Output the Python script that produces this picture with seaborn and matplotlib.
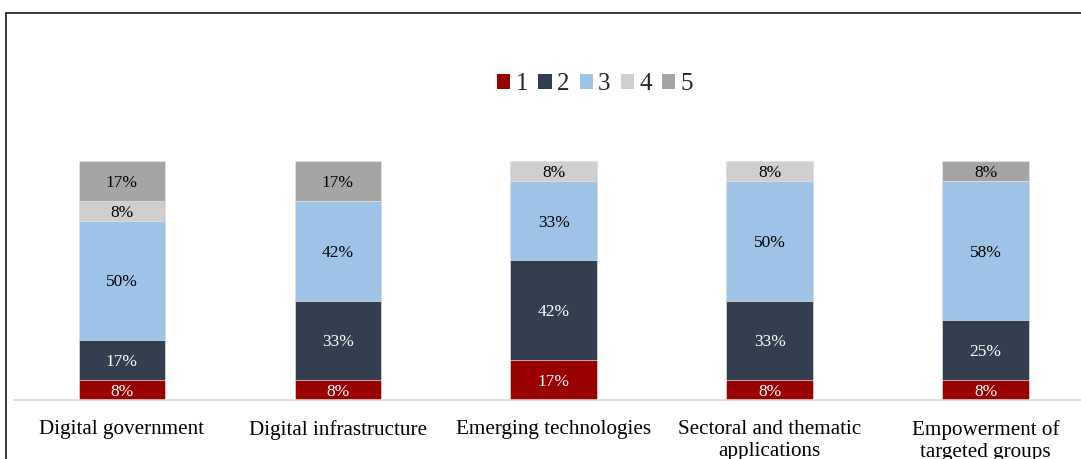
import matplotlib
matplotlib.use("Agg")
import matplotlib.pyplot as plt
from matplotlib.patches import Patch
from matplotlib.lines import Line2D
import pandas as pd
import seaborn as sns

# Share of responses (%) per rating level, 12 respondents per area
categories = [
    "Digital government",
    "Digital infrastructure",
    "Emerging technologies",
    "Sectoral and thematic\napplications",
    "Empowerment of\ntargeted groups",
]
levels = ["1", "2", "3", "4", "5"]
share_1 = [8.3, 8.3, 16.7, 8.3, 8.3]
share_2 = [16.7, 33.3, 41.7, 33.3, 25.0]
share_3 = [50.0, 41.7, 33.3, 50.0, 58.3]
share_4 = [8.3, 0.0, 8.3, 8.3, 0.0]
share_5 = [16.7, 16.7, 0.0, 0.0, 8.3]

colors = ["#990000", "#333f50", "#9dc3e6", "#d0cece", "#a5a5a5"]
label_colors = ["white", "white", "black", "black", "black"]

sns.set_theme(style="white")
plt.rcParams["font.family"] = ["Liberation Serif", "DejaVu Serif"]

shares = pd.DataFrame(
    {"1": share_1, "2": share_2, "3": share_3, "4": share_4, "5": share_5},
    index=categories,
)
tops = shares.cumsum(axis=1)
bottoms = tops - shares

W, H = 1081, 459
fig = plt.figure(figsize=(W / 100, H / 100), dpi=100)
ax = fig.add_axes([13.7 / W, (H - 400) / H, 1080 / W, 239 / H])

# Stack by drawing cumulative totals from the top level down
for lvl, col in reversed(list(zip(levels, colors))):
    sns.barplot(
        x=categories, y=list(tops[lvl]), color=col, saturation=1,
        width=0.4, edgecolor="#e4e4e4", linewidth=0.5, ax=ax,
    )

for lvl, tc in zip(levels, label_colors):
    for i, cat in enumerate(categories):
        v = shares.loc[cat, lvl]
        if v > 0:
            ax.text(i, bottoms.loc[cat, lvl] + v / 2, f"{v:.0f}%",
                    ha="center", va="center_baseline", color=tc, fontsize=12.5)

ax.set_xlim(-0.5, 4.5)
ax.set_ylim(0, 100)
ax.set_yticks([])
ax.set_xlabel("")
ax.set_ylabel("")
for s in ["left", "top", "right"]:
    ax.spines[s].set_visible(False)
ax.spines["bottom"].set_color("#d9d9d9")
ax.spines["bottom"].set_linewidth(1.2)
ax.tick_params(axis="x", length=0, pad=14.5, labelsize=15.2, labelcolor="black")

handles = [Patch(facecolor=c, edgecolor="none", label=l) for l, c in zip(levels, colors)]
fig.legend(
    handles=handles, ncol=5, loc="center", bbox_to_anchor=(595 / W, 1 - 84 / H),
    frameon=False, fontsize=18, handlelength=0.53, handleheight=0.53,
    handletextpad=0.2, columnspacing=0.42, borderaxespad=0, borderpad=0,
)

# Outer chart border (left and top edges)
fig.add_artist(Line2D([6.3 / W, 6.3 / W], [0, 1 - 12.5 / H],
                      transform=fig.transFigure, color="black", lw=1.1))
fig.add_artist(Line2D([6.3 / W, 1.0], [1 - 12.5 / H, 1 - 12.5 / H],
                      transform=fig.transFigure, color="black", lw=1.1))

fig.savefig("out.png", dpi=100)
